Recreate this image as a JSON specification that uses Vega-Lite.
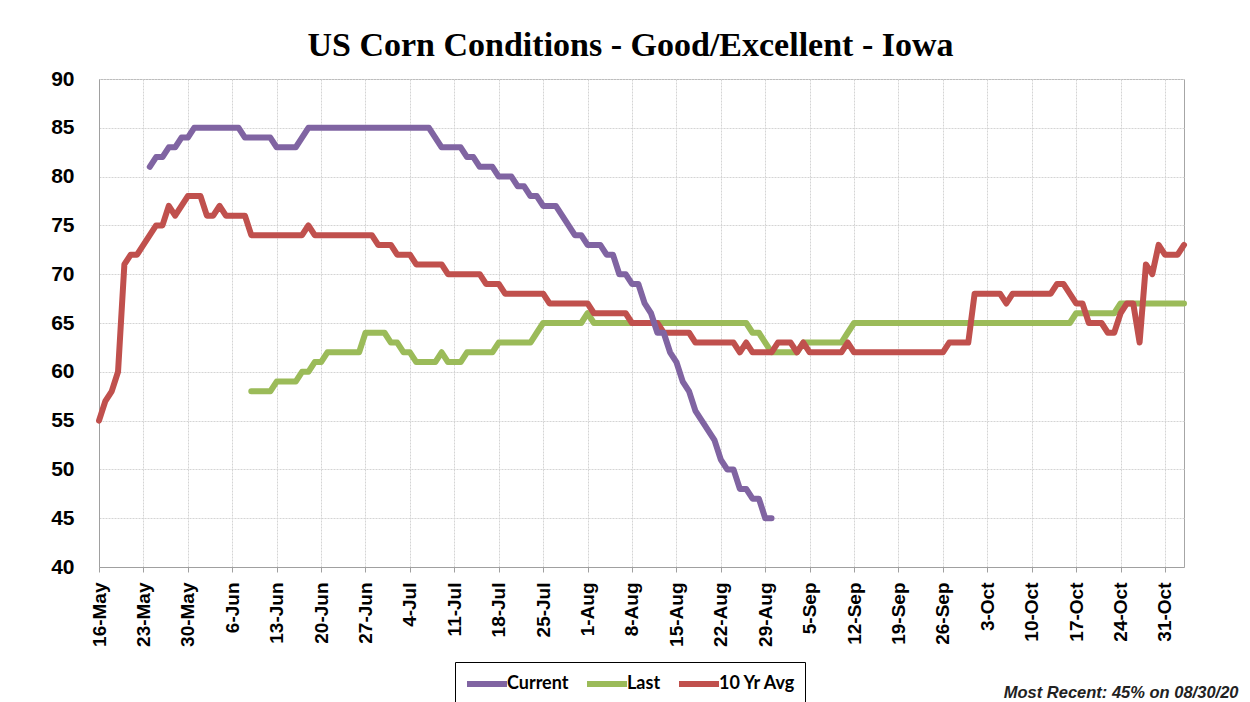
{
"$schema": "https://vega.github.io/schema/vega-lite/v6.json",
"width": 1085, "height": 488,
"autosize": {"type": "none"},
"padding": {"left": 99, "top": 79, "right": 66, "bottom": 135},
"background": "white",
"title": {"text": "US Corn Conditions - Good/Excellent - Iowa", "font": "Liberation Serif", "fontSize": 34, "fontWeight": "bold", "color": "black", "anchor": "middle", "dx": -11, "offset": 5},
"data": {"values": [
{"d":"2020-05-16","a":55},{"d":"2020-05-17","a":57},{"d":"2020-05-18","a":58},{"d":"2020-05-19","a":60},
{"d":"2020-05-20","a":71},{"d":"2020-05-21","a":72},{"d":"2020-05-22","a":72},{"d":"2020-05-23","a":73},
{"d":"2020-05-24","c":81,"a":74},{"d":"2020-05-25","c":82,"a":75},{"d":"2020-05-26","c":82,"a":75},{"d":"2020-05-27","c":83,"a":77},
{"d":"2020-05-28","c":83,"a":76},{"d":"2020-05-29","c":84,"a":77},{"d":"2020-05-30","c":84,"a":78},{"d":"2020-05-31","c":85,"a":78},
{"d":"2020-06-01","c":85,"a":78},{"d":"2020-06-02","c":85,"a":76},{"d":"2020-06-03","c":85,"a":76},{"d":"2020-06-04","c":85,"a":77},
{"d":"2020-06-05","c":85,"a":76},{"d":"2020-06-06","c":85,"a":76},{"d":"2020-06-07","c":85,"a":76},{"d":"2020-06-08","c":84,"a":76},
{"d":"2020-06-09","c":84,"l":58,"a":74},{"d":"2020-06-10","c":84,"l":58,"a":74},{"d":"2020-06-11","c":84,"l":58,"a":74},{"d":"2020-06-12","c":84,"l":58,"a":74},
{"d":"2020-06-13","c":83,"l":59,"a":74},{"d":"2020-06-14","c":83,"l":59,"a":74},{"d":"2020-06-15","c":83,"l":59,"a":74},{"d":"2020-06-16","c":83,"l":59,"a":74},
{"d":"2020-06-17","c":84,"l":60,"a":74},{"d":"2020-06-18","c":85,"l":60,"a":75},{"d":"2020-06-19","c":85,"l":61,"a":74},{"d":"2020-06-20","c":85,"l":61,"a":74},
{"d":"2020-06-21","c":85,"l":62,"a":74},{"d":"2020-06-22","c":85,"l":62,"a":74},{"d":"2020-06-23","c":85,"l":62,"a":74},{"d":"2020-06-24","c":85,"l":62,"a":74},
{"d":"2020-06-25","c":85,"l":62,"a":74},{"d":"2020-06-26","c":85,"l":62,"a":74},{"d":"2020-06-27","c":85,"l":64,"a":74},{"d":"2020-06-28","c":85,"l":64,"a":74},
{"d":"2020-06-29","c":85,"l":64,"a":73},{"d":"2020-06-30","c":85,"l":64,"a":73},{"d":"2020-07-01","c":85,"l":63,"a":73},{"d":"2020-07-02","c":85,"l":63,"a":72},
{"d":"2020-07-03","c":85,"l":62,"a":72},{"d":"2020-07-04","c":85,"l":62,"a":72},{"d":"2020-07-05","c":85,"l":61,"a":71},{"d":"2020-07-06","c":85,"l":61,"a":71},
{"d":"2020-07-07","c":85,"l":61,"a":71},{"d":"2020-07-08","c":84,"l":61,"a":71},{"d":"2020-07-09","c":83,"l":62,"a":71},{"d":"2020-07-10","c":83,"l":61,"a":70},
{"d":"2020-07-11","c":83,"l":61,"a":70},{"d":"2020-07-12","c":83,"l":61,"a":70},{"d":"2020-07-13","c":82,"l":62,"a":70},{"d":"2020-07-14","c":82,"l":62,"a":70},
{"d":"2020-07-15","c":81,"l":62,"a":70},{"d":"2020-07-16","c":81,"l":62,"a":69},{"d":"2020-07-17","c":81,"l":62,"a":69},{"d":"2020-07-18","c":80,"l":63,"a":69},
{"d":"2020-07-19","c":80,"l":63,"a":68},{"d":"2020-07-20","c":80,"l":63,"a":68},{"d":"2020-07-21","c":79,"l":63,"a":68},{"d":"2020-07-22","c":79,"l":63,"a":68},
{"d":"2020-07-23","c":78,"l":63,"a":68},{"d":"2020-07-24","c":78,"l":64,"a":68},{"d":"2020-07-25","c":77,"l":65,"a":68},{"d":"2020-07-26","c":77,"l":65,"a":67},
{"d":"2020-07-27","c":77,"l":65,"a":67},{"d":"2020-07-28","c":76,"l":65,"a":67},{"d":"2020-07-29","c":75,"l":65,"a":67},{"d":"2020-07-30","c":74,"l":65,"a":67},
{"d":"2020-07-31","c":74,"l":65,"a":67},{"d":"2020-08-01","c":73,"l":66,"a":67},{"d":"2020-08-02","c":73,"l":65,"a":66},{"d":"2020-08-03","c":73,"l":65,"a":66},
{"d":"2020-08-04","c":72,"l":65,"a":66},{"d":"2020-08-05","c":72,"l":65,"a":66},{"d":"2020-08-06","c":70,"l":65,"a":66},{"d":"2020-08-07","c":70,"l":65,"a":66},
{"d":"2020-08-08","c":69,"l":65,"a":65},{"d":"2020-08-09","c":69,"l":65,"a":65},{"d":"2020-08-10","c":67,"l":65,"a":65},{"d":"2020-08-11","c":66,"l":65,"a":65},
{"d":"2020-08-12","c":64,"l":65,"a":65},{"d":"2020-08-13","c":64,"l":65,"a":64},{"d":"2020-08-14","c":62,"l":65,"a":64},{"d":"2020-08-15","c":61,"l":65,"a":64},
{"d":"2020-08-16","c":59,"l":65,"a":64},{"d":"2020-08-17","c":58,"l":65,"a":64},{"d":"2020-08-18","c":56,"l":65,"a":63},{"d":"2020-08-19","c":55,"l":65,"a":63},
{"d":"2020-08-20","c":54,"l":65,"a":63},{"d":"2020-08-21","c":53,"l":65,"a":63},{"d":"2020-08-22","c":51,"l":65,"a":63},{"d":"2020-08-23","c":50,"l":65,"a":63},
{"d":"2020-08-24","c":50,"l":65,"a":63},{"d":"2020-08-25","c":48,"l":65,"a":62},{"d":"2020-08-26","c":48,"l":65,"a":63},{"d":"2020-08-27","c":47,"l":64,"a":62},
{"d":"2020-08-28","c":47,"l":64,"a":62},{"d":"2020-08-29","c":45,"l":63,"a":62},{"d":"2020-08-30","c":45,"l":62,"a":62},{"d":"2020-08-31","l":62,"a":63},
{"d":"2020-09-01","l":62,"a":63},{"d":"2020-09-02","l":62,"a":63},{"d":"2020-09-03","l":62,"a":62},{"d":"2020-09-04","l":63,"a":63},
{"d":"2020-09-05","l":63,"a":62},{"d":"2020-09-06","l":63,"a":62},{"d":"2020-09-07","l":63,"a":62},{"d":"2020-09-08","l":63,"a":62},
{"d":"2020-09-09","l":63,"a":62},{"d":"2020-09-10","l":63,"a":62},{"d":"2020-09-11","l":64,"a":63},{"d":"2020-09-12","l":65,"a":62},
{"d":"2020-09-13","l":65,"a":62},{"d":"2020-09-14","l":65,"a":62},{"d":"2020-09-15","l":65,"a":62},{"d":"2020-09-16","l":65,"a":62},
{"d":"2020-09-17","l":65,"a":62},{"d":"2020-09-18","l":65,"a":62},{"d":"2020-09-19","l":65,"a":62},{"d":"2020-09-20","l":65,"a":62},
{"d":"2020-09-21","l":65,"a":62},{"d":"2020-09-22","l":65,"a":62},{"d":"2020-09-23","l":65,"a":62},{"d":"2020-09-24","l":65,"a":62},
{"d":"2020-09-25","l":65,"a":62},{"d":"2020-09-26","l":65,"a":62},{"d":"2020-09-27","l":65,"a":63},{"d":"2020-09-28","l":65,"a":63},
{"d":"2020-09-29","l":65,"a":63},{"d":"2020-09-30","l":65,"a":63},{"d":"2020-10-01","l":65,"a":68},{"d":"2020-10-02","l":65,"a":68},
{"d":"2020-10-03","l":65,"a":68},{"d":"2020-10-04","l":65,"a":68},{"d":"2020-10-05","l":65,"a":68},{"d":"2020-10-06","l":65,"a":67},
{"d":"2020-10-07","l":65,"a":68},{"d":"2020-10-08","l":65,"a":68},{"d":"2020-10-09","l":65,"a":68},{"d":"2020-10-10","l":65,"a":68},
{"d":"2020-10-11","l":65,"a":68},{"d":"2020-10-12","l":65,"a":68},{"d":"2020-10-13","l":65,"a":68},{"d":"2020-10-14","l":65,"a":69},
{"d":"2020-10-15","l":65,"a":69},{"d":"2020-10-16","l":65,"a":68},{"d":"2020-10-17","l":66,"a":67},{"d":"2020-10-18","l":66,"a":67},
{"d":"2020-10-19","l":66,"a":65},{"d":"2020-10-20","l":66,"a":65},{"d":"2020-10-21","l":66,"a":65},{"d":"2020-10-22","l":66,"a":64},
{"d":"2020-10-23","l":66,"a":64},{"d":"2020-10-24","l":67,"a":66},{"d":"2020-10-25","l":67,"a":67},{"d":"2020-10-26","l":67,"a":67},
{"d":"2020-10-27","l":67,"a":63},{"d":"2020-10-28","l":67,"a":71},{"d":"2020-10-29","l":67,"a":70},{"d":"2020-10-30","l":67,"a":73},
{"d":"2020-10-31","l":67,"a":72},{"d":"2020-11-01","l":67,"a":72},{"d":"2020-11-02","l":67,"a":72},{"d":"2020-11-03","l":67,"a":73}
]},
"transform": [{"fold": ["c", "l", "a"], "as": ["s", "v"]}],
"encoding": {
  "x": {"field": "d", "type": "temporal",
    "scale": {"type": "utc", "domain": [{"year": 2020, "month": 5, "date": 16, "utc": true}, {"year": 2020, "month": 11, "date": 3, "utc": true}]},
    "axis": {
      "values": [
        {"year":2020,"month":5,"date":16,"utc":true},{"year":2020,"month":5,"date":23,"utc":true},{"year":2020,"month":5,"date":30,"utc":true},
        {"year":2020,"month":6,"date":6,"utc":true},{"year":2020,"month":6,"date":13,"utc":true},{"year":2020,"month":6,"date":20,"utc":true},{"year":2020,"month":6,"date":27,"utc":true},
        {"year":2020,"month":7,"date":4,"utc":true},{"year":2020,"month":7,"date":11,"utc":true},{"year":2020,"month":7,"date":18,"utc":true},{"year":2020,"month":7,"date":25,"utc":true},
        {"year":2020,"month":8,"date":1,"utc":true},{"year":2020,"month":8,"date":8,"utc":true},{"year":2020,"month":8,"date":15,"utc":true},{"year":2020,"month":8,"date":22,"utc":true},{"year":2020,"month":8,"date":29,"utc":true},
        {"year":2020,"month":9,"date":5,"utc":true},{"year":2020,"month":9,"date":12,"utc":true},{"year":2020,"month":9,"date":19,"utc":true},{"year":2020,"month":9,"date":26,"utc":true},
        {"year":2020,"month":10,"date":3,"utc":true},{"year":2020,"month":10,"date":10,"utc":true},{"year":2020,"month":10,"date":17,"utc":true},{"year":2020,"month":10,"date":24,"utc":true},{"year":2020,"month":10,"date":31,"utc":true}
      ],
      "labelExpr": "utcFormat(datum.value, '%-d-%b')",
      "labelAngle": -90, "labelFont": "Liberation Sans", "labelFontWeight": "bold", "labelFontSize": 19, "labelColor": "black",
      "labelPadding": 10, "labelOverlap": false, "labelFlush": false, "labelBound": false,
      "tickSize": 5, "tickColor": "#a0a0a0", "domainColor": "#a0a0a0",
      "grid": true, "gridColor": "#d4d4d4", "gridDash": [2, 1],
      "title": "Most Recent: 45% on 08/30/20", "titleFont": "Liberation Sans", "titleFontStyle": "italic", "titleFontWeight": "bold", "titleFontSize": 16.5, "titleColor": "#222222",
      "titleX": 1139, "titleY": 130, "titleAlign": "right", "titleBaseline": "alphabetic", "titleAngle": 0
    }},
  "y": {"field": "v", "type": "quantitative", "scale": {"domain": [40, 90], "nice": false, "zero": false},
    "axis": {"values": [40,45,50,55,60,65,70,75,80,85,90], "labelFont": "Liberation Sans", "labelFontWeight": "bold", "labelFontSize": 21, "labelColor": "black",
      "labelPadding": 25, "ticks": false, "domainColor": "#a0a0a0", "grid": true, "gridColor": "#d4d4d4", "gridDash": [2, 1], "title": null}},
  "color": {"field": "s", "type": "nominal",
    "scale": {"domain": ["c", "l", "a"], "range": ["#8064A2", "#9BBB59", "#C0504D"]},
    "legend": {"orient": "none", "legendX": 356, "legendY": 583, "direction": "horizontal", "title": null,
      "labelExpr": "datum.label == 'c' ? 'Current' : datum.label == 'l' ? 'Last' : '10 Yr Avg'",
      "symbolType": "M-1,0H3", "symbolSize": 400, "symbolStrokeWidth": 6,
      "labelFont": "Lato", "labelFontSize": 18, "labelFontWeight": "bold", "labelColor": "black", "labelOffset": 17,
      "strokeColor": "black", "padding": 9, "columnPadding": 6}}
},
"layer": [
  {"transform": [{"filter": "datum.s == 'l'"}], "mark": {"type": "line", "strokeWidth": 6, "strokeCap": "round", "strokeJoin": "round"}},
  {"transform": [{"filter": "datum.s == 'a'"}], "mark": {"type": "line", "strokeWidth": 6, "strokeCap": "round", "strokeJoin": "round"}},
  {"transform": [{"filter": "datum.s == 'c'"}], "mark": {"type": "line", "strokeWidth": 6, "strokeCap": "round", "strokeJoin": "round"}}
],
"config": {"view": {"stroke": "#a6a6a6"}, "font": "Liberation Sans"}
}
